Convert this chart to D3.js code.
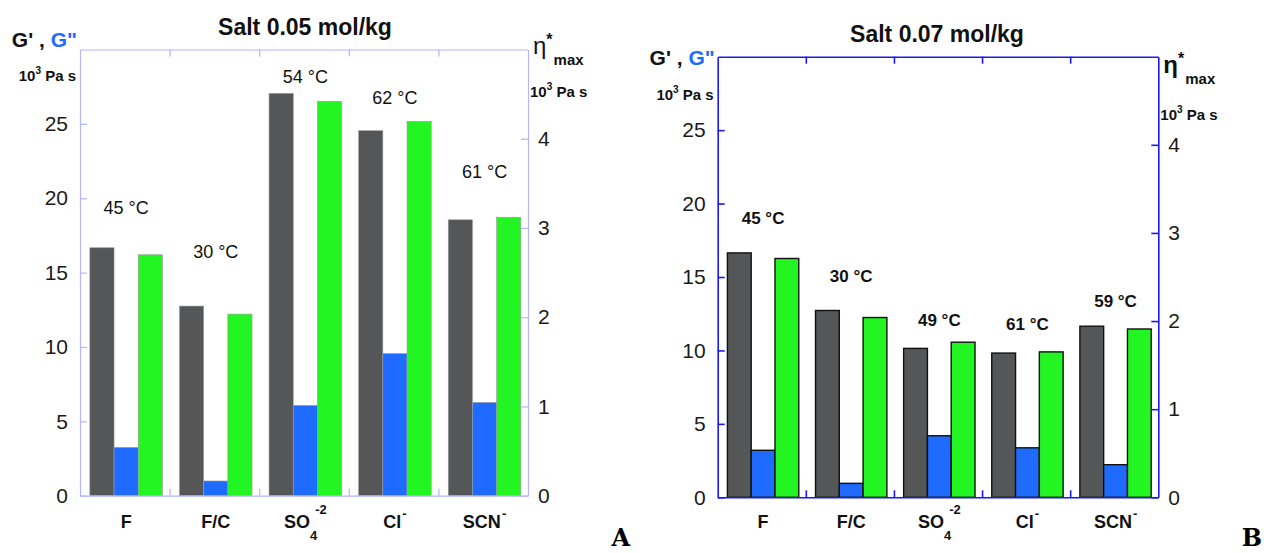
<!DOCTYPE html>
<html>
<head>
<meta charset="utf-8">
<script src="https://cdn.jsdelivr.net/npm/d3@7"></script>
<style>
  body { margin: 0; background: #fff; }
  text { font-family: "Liberation Sans", Arial, sans-serif; }
</style>
</head>
<body>
<div class="canvas"></div>
<script>
// categories (anion) with sub/superscripts
const categories = ['F', 'F/C', 'SO', 'Cl', 'SCN'];
const catSub = ['', '', '4', '', ''];
const catSup = ['', '', '-2', '-', '-'];

// panel A : salt 0.05 mol/kg
const gPrimeA  = [16.67, 12.75, 27.05, 24.54, 18.55];
const gDoubleA = [3.25, 0.99, 6.07, 9.56, 6.27];
const etaA     = [2.70, 2.035, 4.42, 4.195, 3.12];
const tempA    = ['45 °C', '30 °C', '54 °C', '62 °C', '61 °C'];
const tempAtA  = [19.4, 16.4, 28.2, 26.8, 21.8];

// panel B : salt 0.07 mol/kg
const gPrimeB  = [16.64, 12.72, 10.14, 9.82, 11.65];
const gDoubleB = [3.2, 0.95, 4.19, 3.37, 2.22];
const etaB     = [2.71, 2.04, 1.76, 1.65, 1.91];
const tempB    = ['45 °C', '30 °C', '49 °C', '61 °C', '59 °C'];
const tempAtB  = [19.0, 15.1, 12.1, 11.8, 13.4];

const leftTicks = [0, 5, 10, 15, 20, 25];
const rightTicks = [0, 1, 2, 3, 4];

const svg = d3.select('.canvas')
  .append('svg')
  .attr('width', 1264)
  .attr('height', 553);

function drawPanel(p) {
  const g = svg.append('g');

  const x = d3.scaleBand().domain(categories).range([p.left, p.right]);
  const xSub = d3.scaleBand().domain(['gp', 'gpp', 'eta'])
    .range([x.bandwidth() * 0.11, x.bandwidth() * 0.92]);
  const xLin = d3.scaleLinear().domain([0, 5]).range([p.left, p.right]);
  const yL = d3.scaleLinear().domain([0, 30]).range([p.bottom, p.top]);
  const yR = d3.scaleLinear().domain([0, 5]).range([p.bottom, p.top]);

  const rows = categories.map((c, i) => ({
    cat: c, gp: p.gp[i], gpp: p.gpp[i], eta: p.eta[i],
    temp: p.temp[i], tempAt: p.tempAt[i], sub: catSub[i], sup: catSup[i]
  }));

  // bars
  const bars = [
    {key: 'gp', fill: '#555657', scale: yL},
    {key: 'gpp', fill: '#1f6bff', scale: yL},
    {key: 'eta', fill: '#22f522', scale: yR}
  ];
  bars.forEach(b => {
    g.selectAll('rect.' + b.key)
      .data(rows)
      .enter()
      .append('rect')
      .attr('class', b.key)
      .attr('x', d => x(d.cat) + xSub(b.key))
      .attr('width', xSub.bandwidth())
      .attr('y', d => b.scale(d[b.key]))
      .attr('height', d => p.bottom - b.scale(d[b.key]))
      .attr('fill', b.fill)
      .attr('stroke', p.barStroke)
      .attr('stroke-width', p.barStrokeW);
  });

  // axes
  const styleAxis = (sel) => {
    sel.selectAll('path.domain').attr('stroke', p.axisColor).attr('stroke-width', p.axisW);
    sel.selectAll('.tick line').attr('stroke', p.axisColor).attr('stroke-width', p.axisW);
    sel.selectAll('.tick text').attr('fill', '#1a1a1a')
      .style('font-size', '21px');
  };

  g.append('g').attr('transform', `translate(${p.left},0)`)
    .call(d3.axisLeft(yL).tickValues(leftTicks).tickFormat(d3.format('d'))
      .tickSize(-7).tickSizeOuter(0).tickPadding(12))
    .call(styleAxis);
  g.append('g').attr('transform', `translate(${p.right},0)`)
    .call(d3.axisRight(yR).tickValues(rightTicks).tickFormat(d3.format('d'))
      .tickSize(-7).tickSizeOuter(0).tickPadding(10))
    .call(styleAxis);
  g.append('g').attr('transform', `translate(0,${p.top})`)
    .call(d3.axisTop(xLin).tickValues([1, 2, 3, 4]).tickSize(-7).tickSizeOuter(0).tickFormat(''))
    .call(styleAxis);
  g.append('g').attr('transform', `translate(0,${p.bottom})`)
    .call(d3.axisBottom(xLin).tickValues([1, 2, 3, 4]).tickSize(-7).tickSizeOuter(0).tickFormat(''))
    .call(styleAxis);

  // category labels
  const cat = g.selectAll('text.cat')
    .data(rows)
    .enter()
    .append('text')
    .attr('class', 'cat')
    .attr('x', d => x(d.cat) + x.bandwidth() * 0.515)
    .attr('y', 528)
    .attr('text-anchor', 'middle')
    .style('font-size', '18px')
    .style('font-weight', 'bold')
    .attr('fill', '#111');
  cat.append('tspan').text(d => d.cat);
  cat.filter(d => d.sub).append('tspan')
    .attr('dy', 12).style('font-size', '13px').text(d => d.sub);
  cat.filter(d => d.sup).append('tspan')
    .attr('dx', d => d.sub ? -2 : 1)
    .attr('dy', d => d.sub ? -26 : -10)
    .style('font-size', '13px').text(d => d.sup);

  // temperature labels
  g.selectAll('text.temp')
    .data(rows)
    .enter()
    .append('text')
    .attr('class', 'temp')
    .attr('x', d => x(d.cat) + x.bandwidth() * 0.515)
    .attr('y', d => yL(d.tempAt))
    .attr('dy', '0.36em')
    .attr('text-anchor', 'middle')
    .style('font-size', p.tempSize)
    .style('font-weight', p.tempWeight)
    .attr('fill', '#111')
    .text(d => d.temp);

  // title
  g.append('text')
    .attr('x', (p.left + p.right) / 2 + p.titleDx)
    .attr('y', p.titleY)
    .attr('text-anchor', 'middle')
    .style('font-size', '23px')
    .style('font-weight', 'bold')
    .attr('fill', '#111')
    .text(p.title);

  // left axis title
  const gl = g.append('text')
    .attr('x', p.left - 3)
    .attr('y', p.gLabelY)
    .attr('text-anchor', 'end')
    .style('font-size', '21px')
    .style('font-weight', 'bold')
    .attr('fill', '#111');
  gl.append('tspan').text("G' , ");
  gl.append('tspan').attr('fill', '#1f6bff').text('G"');

  const unit = (sel, xx, yy, anchor) => {
    const t = sel.append('text')
      .attr('x', xx).attr('y', yy)
      .attr('text-anchor', anchor)
      .style('font-size', '15px')
      .style('font-weight', 'bold')
      .attr('fill', '#111');
    t.append('tspan').text('10');
    t.append('tspan').attr('dy', -7).style('font-size', '10px').text('3');
    t.append('tspan').attr('dy', 7).text(' Pa s');
  };
  unit(g, p.left - 4, p.unitLY, 'end');

  // right axis title
  const eta = g.append('text')
    .attr('x', p.right + 5)
    .attr('y', p.etaY)
    .style('font-size', '24px')
    .style('font-weight', p.etaWeight)
    .attr('fill', '#111');
  eta.append('tspan').text('η');
  eta.append('tspan').attr('dy', -9).style('font-size', '16px').style('font-weight', 'bold').text('*');
  eta.append('tspan').attr('dx', 1).attr('dy', 20).style('font-size', '15px').style('font-weight', 'bold').text('max');
  unit(g, p.right + 2, p.unitRY, 'start');

  // panel letter
  g.append('text')
    .attr('x', p.letterX)
    .attr('y', 546)
    .attr('text-anchor', 'end')
    .style('font-family', '"DejaVu Serif", "Liberation Serif", serif')
    .style('font-size', '24px')
    .style('font-weight', 'bold')
    .attr('fill', '#000')
    .text(p.letter);
}

drawPanel({
  left: 80, right: 528, top: 49.5, bottom: 495.7,
  gp: gPrimeA, gpp: gDoubleA, eta: etaA, temp: tempA, tempAt: tempAtA,
  axisColor: '#b4b4ff', axisW: 1.2,
  barStroke: '#9a9a9a', barStrokeW: 0.6,
  tempSize: '18px', tempWeight: 'normal',
  title: 'Salt 0.05 mol/kg', titleDx: 1, titleY: 35,
  gLabelY: 47, unitLY: 81, etaY: 54, unitRY: 97, etaWeight: 'normal',
  letter: 'A', letterX: 630
});

drawPanel({
  left: 717.7, right: 1158.3, top: 56.7, bottom: 497.3,
  gp: gPrimeB, gpp: gDoubleB, eta: etaB, temp: tempB, tempAt: tempAtB,
  axisColor: '#1a1aee', axisW: 1.6,
  barStroke: '#111', barStrokeW: 1.4,
  tempSize: '17px', tempWeight: 'bold',
  title: 'Salt 0.07 mol/kg', titleDx: -1, titleY: 42,
  gLabelY: 65, unitLY: 100, etaY: 73, unitRY: 120, etaWeight: 'bold',
  letter: 'B', letterX: 1262
});
</script>
</body>
</html>
